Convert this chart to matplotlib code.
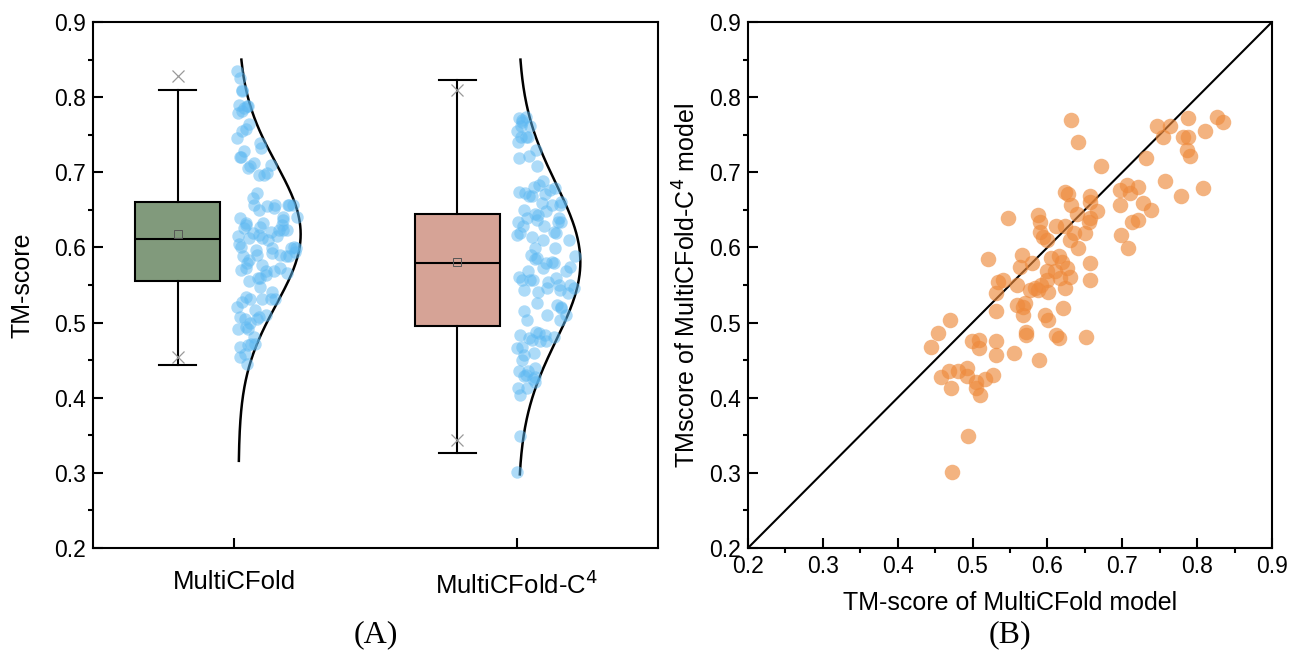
import numpy as np
import matplotlib
matplotlib.use('Agg')
import matplotlib.pyplot as plt

plt.rcParams['font.family'] = ['Liberation Sans', 'DejaVu Sans']

# TM-scores per target (x: MultiCFold, y: MultiCFold-C4)
tm_multicfold = [
    0.521, 0.470, 0.454, 0.445, 0.499, 0.508, 0.508, 0.531, 0.531, 0.458,
    0.468, 0.481, 0.492, 0.492, 0.505, 0.505, 0.510, 0.517, 0.528, 0.471,
    0.494, 0.472, 0.532, 0.534, 0.532, 0.559, 0.570, 0.568, 0.597, 0.601,
    0.621, 0.572, 0.572, 0.612, 0.615, 0.652, 0.555, 0.589, 0.548, 0.588,
    0.590, 0.590, 0.594, 0.599, 0.612, 0.623, 0.632, 0.639, 0.657, 0.666,
    0.657, 0.655, 0.630, 0.636, 0.650, 0.641, 0.697, 0.728, 0.739, 0.713,
    0.721, 0.699, 0.708, 0.566, 0.563, 0.579, 0.541, 0.559, 0.605, 0.615,
    0.619, 0.599, 0.610, 0.626, 0.630, 0.617, 0.599, 0.592, 0.583, 0.588,
    0.577, 0.601, 0.623, 0.657, 0.657, 0.568, 0.632, 0.641, 0.672, 0.746,
    0.764, 0.755, 0.788, 0.826, 0.835, 0.810, 0.781, 0.788, 0.786, 0.790,
    0.732, 0.757, 0.779, 0.808, 0.706, 0.710, 0.697, 0.721, 0.623, 0.627,
    0.657,
]
tm_c4 = [
    0.585, 0.503, 0.486, 0.468, 0.475, 0.477, 0.466, 0.475, 0.457, 0.428,
    0.435, 0.435, 0.440, 0.429, 0.421, 0.413, 0.404, 0.425, 0.430, 0.413,
    0.349, 0.301, 0.539, 0.554, 0.515, 0.523, 0.526, 0.510, 0.510, 0.503,
    0.519, 0.488, 0.483, 0.483, 0.479, 0.481, 0.459, 0.450, 0.639, 0.643,
    0.634, 0.621, 0.614, 0.610, 0.628, 0.628, 0.656, 0.645, 0.661, 0.648,
    0.639, 0.634, 0.610, 0.619, 0.619, 0.599, 0.656, 0.659, 0.650, 0.634,
    0.636, 0.617, 0.599, 0.590, 0.574, 0.579, 0.557, 0.550, 0.586, 0.588,
    0.581, 0.568, 0.568, 0.572, 0.561, 0.559, 0.557, 0.550, 0.546, 0.543,
    0.543, 0.541, 0.546, 0.579, 0.557, 0.521, 0.769, 0.741, 0.708, 0.761,
    0.761, 0.747, 0.772, 0.774, 0.767, 0.755, 0.747, 0.747, 0.730, 0.722,
    0.719, 0.689, 0.668, 0.679, 0.683, 0.672, 0.676, 0.680, 0.674, 0.671,
    0.668,
]

# box statistics as drawn in panel A
categories = ['MultiCFold', 'MultiCFold-C$^4$']
box_q1 = [0.556, 0.495]
box_median = [0.611, 0.579]
box_q3 = [0.661, 0.645]
box_mean = [0.618, 0.580]
whisker_low = [0.444, 0.326]
whisker_high = [0.810, 0.823]
x_low = [0.454, 0.344]
x_high = [0.828, 0.809]
curve_range = [(0.316, 0.850), (0.298, 0.850)]

box_colors = ['#819a7c', '#d6a396']
dot_blue = '#5cb8f2'
dot_orange = '#ee8a3c'

fig = plt.figure(figsize=(12.9, 6.52), dpi=100)
ax1 = fig.add_axes([0.0721, 0.1595, 0.438, 0.8067])
ax2 = fig.add_axes([0.5798, 0.1595, 0.4062, 0.8067])


def style_axis(ax):
    for s in ax.spines.values():
        s.set_linewidth(1.5)
    ax.tick_params(which='major', direction='in', length=7, width=1.5,
                   labelsize=16.5, pad=5)
    ax.tick_params(which='minor', direction='out', length=3.5, width=1.5)


# ---- panel A ----
stats = []
for i in range(2):
    stats.append(dict(med=box_median[i], q1=box_q1[i], q3=box_q3[i],
                      whislo=whisker_low[i], whishi=whisker_high[i],
                      mean=box_mean[i], fliers=[]))
box_pos = [0.80, 1.79]
bp = ax1.bxp(stats, positions=box_pos, widths=0.30, patch_artist=True,
             showmeans=True, showfliers=False,
             boxprops=dict(linewidth=1.5, edgecolor='black'),
             medianprops=dict(color='black', linewidth=1.5),
             whiskerprops=dict(linewidth=1.5),
             capprops=dict(linewidth=1.5), capwidths=0.13,
             meanprops=dict(marker='s', markerfacecolor='none',
                            markeredgecolor='#555555', markersize=6,
                            markeredgewidth=0.7))
for patch, c in zip(bp['boxes'], box_colors):
    patch.set_facecolor(c)
for i in range(2):
    ax1.plot([box_pos[i]] * 2, [x_low[i], x_high[i]], linestyle='none',
             marker='x', color='#999999', markersize=8, mew=0.9)

groups = [np.array(tm_multicfold), np.array(tm_c4)]
golden = 0.6180339887
for i, vals in enumerate(groups):
    base = [1.015, 2.005][i]
    mu, sd = vals.mean(), vals.std(ddof=1)
    amp = 0.22
    yy = np.linspace(curve_range[i][0], curve_range[i][1], 300)
    ax1.plot(base + amp * np.exp(-0.5 * ((yy - mu) / sd) ** 2), yy,
             color='black', lw=1.8)
    # spread the dots inside the distribution curve
    frac = (np.arange(len(vals)) * golden + 0.3 * i) % 1.0
    dens = np.exp(-0.5 * ((vals - mu) / sd) ** 2)
    jx = base - 0.005 + frac * amp * dens
    ax1.scatter(jx, vals, s=80, color=dot_blue, alpha=0.5, lw=0, zorder=3)

ax1.set_xlim(0.5, 2.5)
ax1.set_ylim(0.2, 0.9)
ax1.set_xticks([1, 2])
ax1.set_xticklabels(categories)
ax1.set_yticks(np.arange(0.2, 0.91, 0.1))
ax1.set_yticks(np.arange(0.25, 0.9, 0.1), minor=True)
ax1.set_ylabel('TM-score', fontsize=18)
ax1.yaxis.set_label_coords(-0.103, 0.5)
style_axis(ax1)
ax1.tick_params(axis='x', which='major', labelsize=18.5, pad=16)
ax1.text(0.5, -0.164, '(A)', transform=ax1.transAxes, ha='center',
         va='center', fontsize=23, family='Liberation Serif')

# ---- panel B ----
ax2.plot([0.2, 0.9], [0.2, 0.9], color='black', lw=1.5)
ax2.scatter(tm_multicfold, tm_c4, s=125, color=dot_orange, alpha=0.65,
            lw=0, zorder=3)
ax2.set_xlim(0.2, 0.9)
ax2.set_ylim(0.2, 0.9)
ticks = np.arange(0.2, 0.91, 0.1)
ax2.set_xticks(ticks)
ax2.set_yticks(ticks)
ax2.set_xticks(np.arange(0.25, 0.9, 0.1), minor=True)
ax2.set_yticks(np.arange(0.25, 0.9, 0.1), minor=True)
ax2.set_xlabel('TM-score of MultiCFold model', fontsize=18)
ax2.xaxis.set_label_coords(0.5, -0.082)
ax2.set_ylabel('TMscore of MultiCFold-C$^4$ model', fontsize=18)
ax2.yaxis.set_label_coords(-0.09, 0.5)
style_axis(ax2)
ax2.text(0.5, -0.164, '(B)', transform=ax2.transAxes, ha='center',
         va='center', fontsize=23, family='Liberation Serif')

fig.savefig('out.png', dpi=100)
